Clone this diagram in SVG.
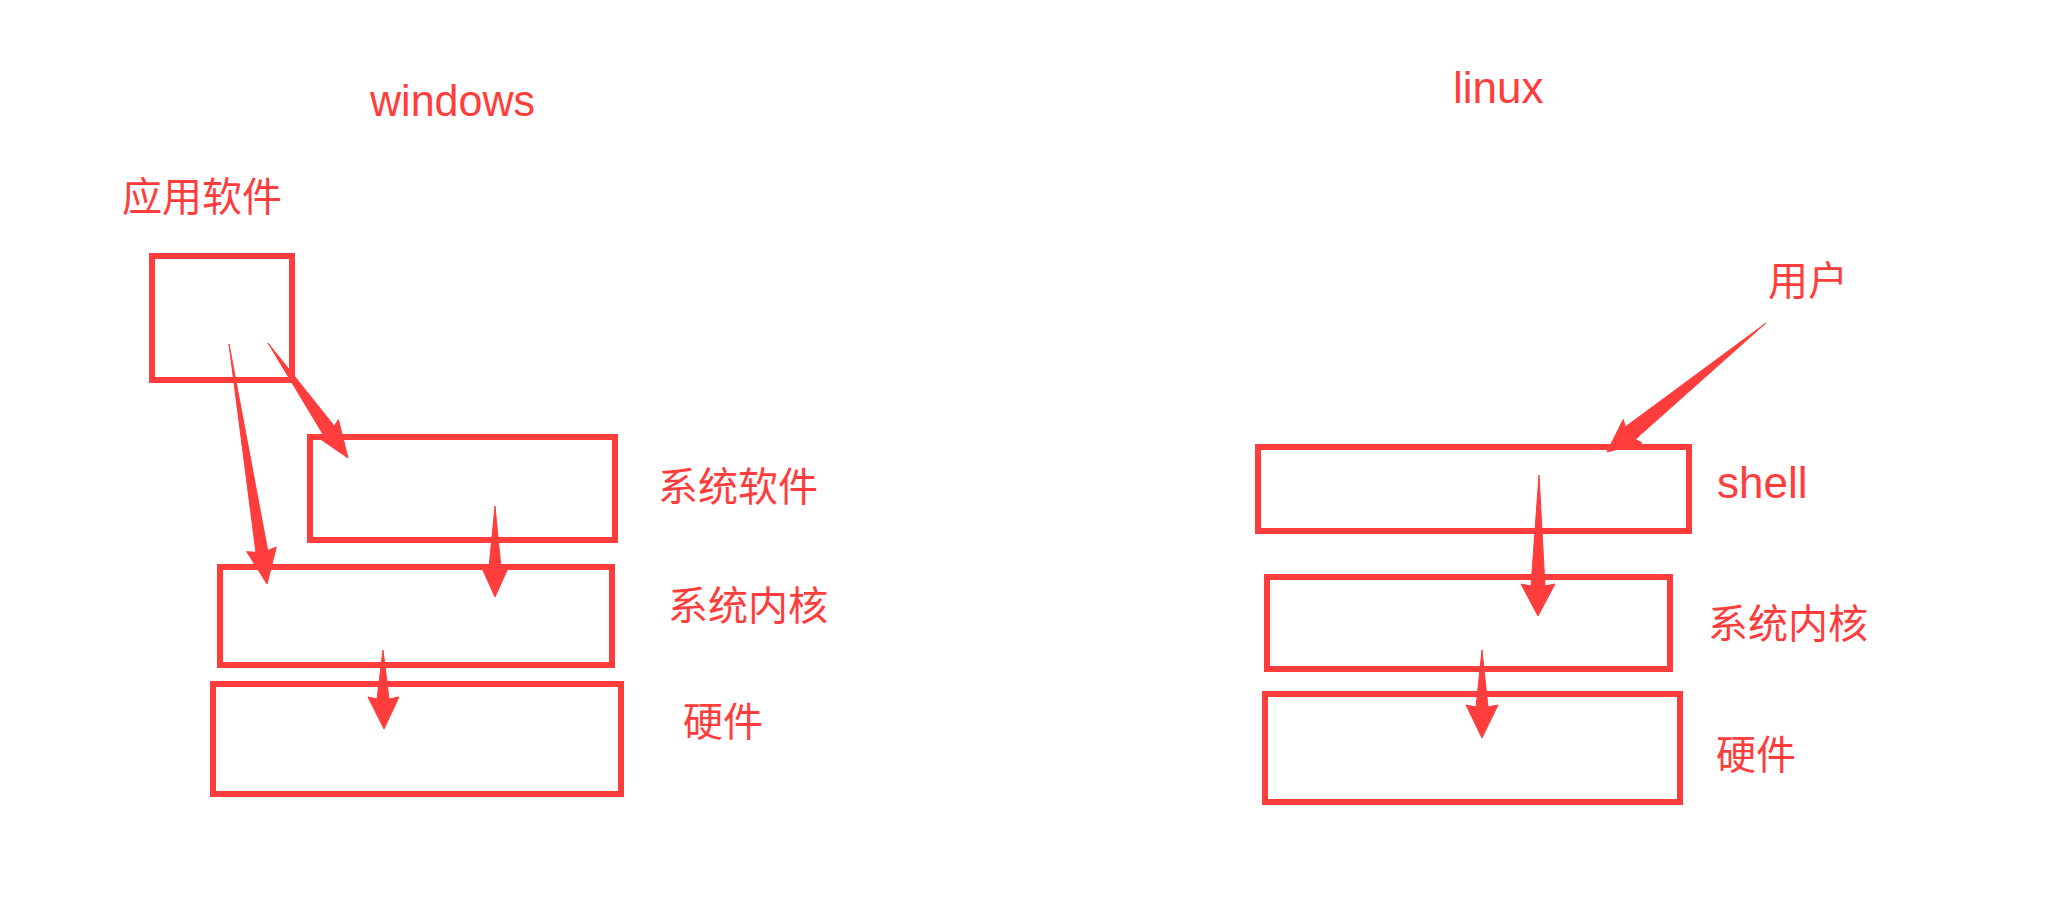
<svg xmlns="http://www.w3.org/2000/svg" width="2049" height="907" viewBox="0 0 2049 907">
<style>
.box{fill:none;stroke:#FF3D3D;stroke-width:6}
.arr{fill:#FF3D3D;stroke:#FF3D3D;stroke-width:1;stroke-linejoin:round}
.lat{font-family:"Liberation Sans",Arial,sans-serif;font-size:44px;fill:#FF3D3D}
.cjk{font-family:"Noto Sans CJK SC","Liberation Sans",sans-serif;font-size:40px;fill:#FF3D3D}
</style>
<rect width="2049" height="907" fill="#FFFFFF"/>
<text class="lat" x="370" y="116" textLength="165" lengthAdjust="spacingAndGlyphs">windows</text>
<text class="lat" x="1453" y="103">linux</text>
<g id="win-app">
<rect class="box" x="152" y="256" width="140" height="124"/>
<text class="cjk" x="122" y="211">应用软件</text>
</g>
<g id="win-syssoft">
<rect class="box" x="310" y="437" width="305" height="103"/>
<text class="cjk" x="658" y="501">系统软件</text>
</g>
<g id="win-kernel">
<rect class="box" x="220" y="567" width="392" height="98"/>
<text class="cjk" x="668" y="620">系统内核</text>
</g>
<g id="win-hw">
<rect class="box" x="213" y="684" width="408" height="110"/>
<text class="cjk" x="683" y="736">硬件</text>
</g>
<g id="linux-user">
<text class="cjk" x="1768" y="295">用户</text>
</g>
<g id="linux-shell">
<rect class="box" x="1258" y="447" width="431" height="84"/>
<text class="lat" x="1717" y="498">shell</text>
</g>
<g id="linux-kernel">
<rect class="box" x="1267" y="577" width="403" height="92"/>
<text class="cjk" x="1708" y="638">系统内核</text>
</g>
<g id="linux-hw">
<rect class="box" x="1265" y="694" width="415" height="108"/>
<text class="cjk" x="1716" y="769">硬件</text>
</g>
<g id="connectors">
<polygon class="arr" points="268,343 334.3,426.1 338.4,419.6 348,458 315.4,435.6 322.9,434.1"/>
<polygon class="arr" points="229,344 267.7,550.5 276.3,547.1 267,584 246.7,551.7 255.9,552.3"/>
<polygon class="arr" points="495,506 501,568 509,566 495,597 481,566 489,568"/>
<polygon class="arr" points="383,650 389,699 399,697 384,729 368,697 377,699"/>
<polygon class="arr" points="1766,323 1635.3,439.3 1642.1,442.9 1607,452 1623.2,419.5 1625.3,426.9"/>
<polygon class="arr" points="1539,475 1545,586 1555,584 1538,616 1521,584 1531,586"/>
<polygon class="arr" points="1482,650 1488,707 1498,705 1482,738 1466,705 1476,707"/>
</g>
</svg>
